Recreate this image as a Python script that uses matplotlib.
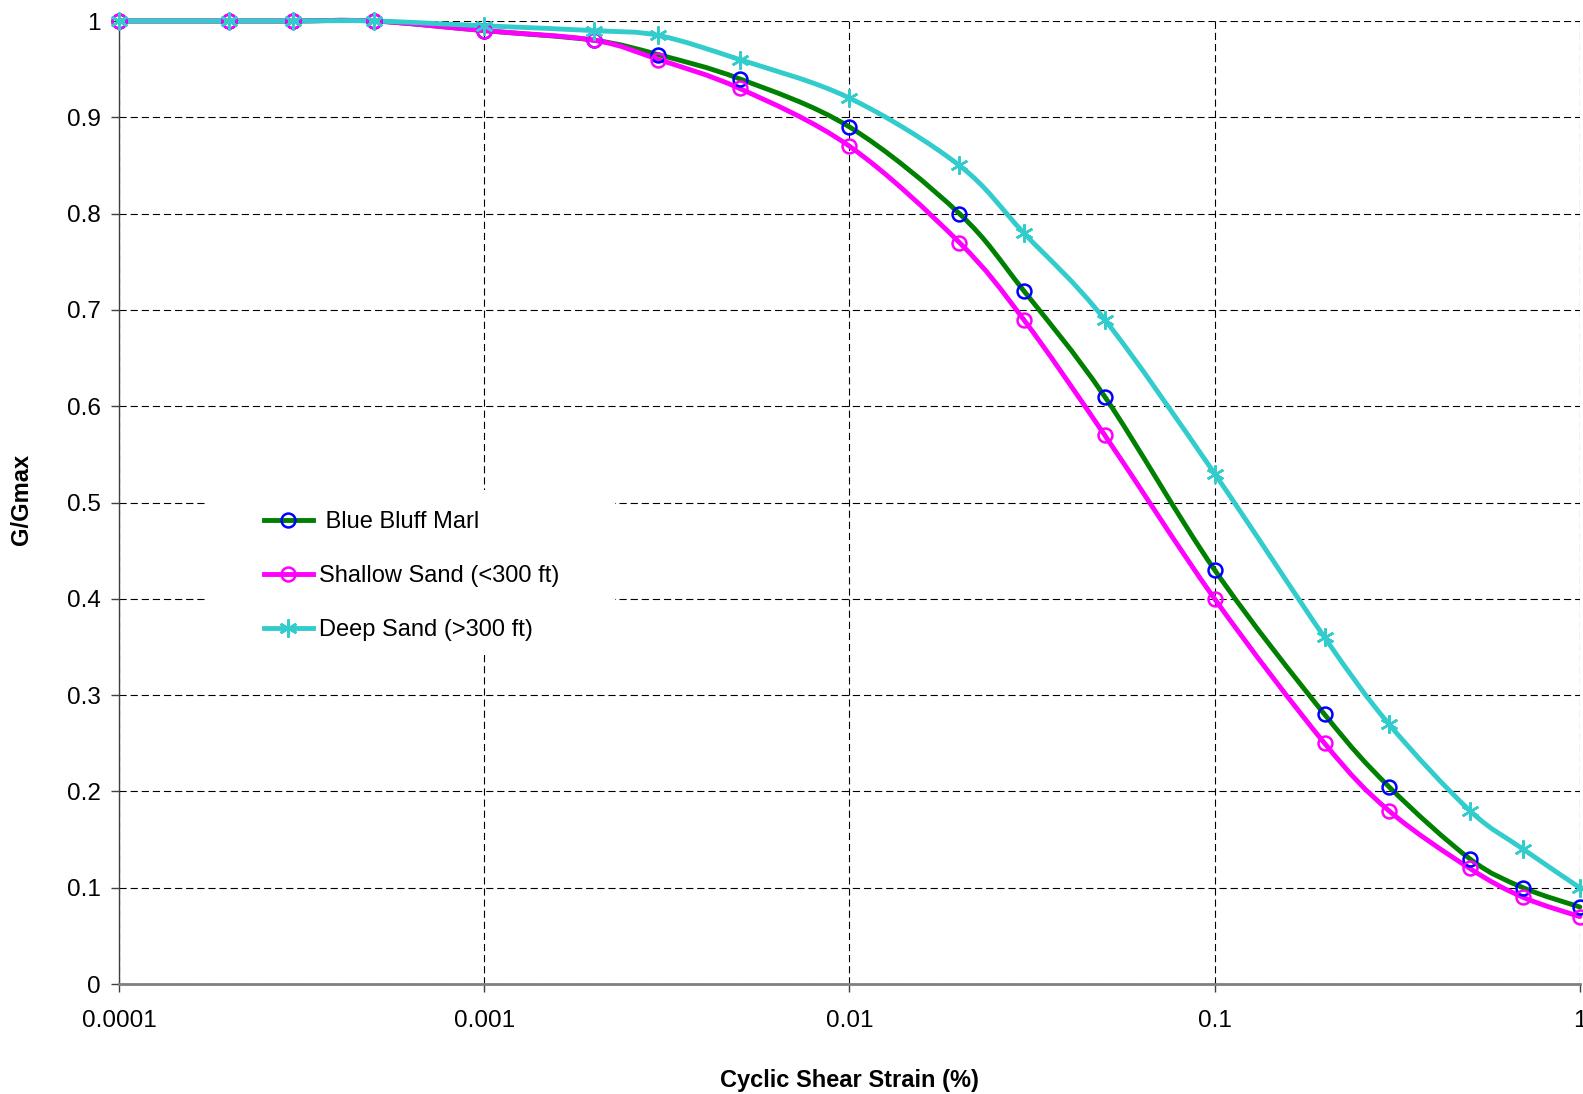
import numpy as np
import matplotlib
matplotlib.use('Agg')
import matplotlib.pyplot as plt
from matplotlib.path import Path
from matplotlib.patches import PathPatch, Rectangle
from matplotlib.lines import Line2D

plt.rcParams['font.family'] = ['Liberation Sans', 'DejaVu Sans']

# cyclic shear strain (%) and modulus reduction G/Gmax
strain = [0.0001, 0.0002, 0.0003, 0.0005, 0.001, 0.002, 0.003, 0.005, 0.01,
          0.02, 0.03, 0.05, 0.1, 0.2, 0.3, 0.5, 0.7, 1.0]
marl = [1, 1, 1, 1, 0.99, 0.98, 0.965, 0.94, 0.89,
        0.80, 0.72, 0.61, 0.43, 0.28, 0.205, 0.13, 0.10, 0.08]
shallow = [1, 1, 1, 1, 0.99, 0.98, 0.96, 0.93, 0.87,
           0.77, 0.69, 0.57, 0.40, 0.25, 0.18, 0.12, 0.09, 0.07]
deep = [1, 1, 1, 1, 0.995, 0.99, 0.985, 0.96, 0.92,
        0.85, 0.78, 0.69, 0.53, 0.36, 0.27, 0.18, 0.14, 0.10]

xticks = [0.0001, 0.001, 0.01, 0.1, 1]
xticklabels = ['0.0001', '0.001', '0.01', '0.1', '1']
yticks = [0, 0.1, 0.2, 0.3, 0.4, 0.5, 0.6, 0.7, 0.8, 0.9, 1]
yticklabels = ['0', '0.1', '0.2', '0.3', '0.4', '0.5', '0.6', '0.7', '0.8', '0.9', '1']


def smooth_path(x, y):
    # excel style smoothed line: catmull-rom bezier segments in log-x space
    lx = np.log10(x)
    y = np.asarray(y, float)
    px = np.concatenate([[lx[0]], lx, [lx[-1]]])
    py = np.concatenate([[y[0]], y, [y[-1]]])
    verts = [(x[0], y[0])]
    codes = [Path.MOVETO]
    for i in range(1, len(lx)):
        c1 = (px[i] + (px[i + 1] - px[i - 1]) / 6, py[i] + (py[i + 1] - py[i - 1]) / 6)
        c2 = (px[i + 1] - (px[i + 2] - px[i]) / 6, py[i + 1] - (py[i + 2] - py[i]) / 6)
        end = (px[i + 1], py[i + 1])
        for p in (c1, c2, end):
            verts.append((10 ** p[0], p[1]))
            codes.append(Path.CURVE4)
    return Path(verts, codes)


fig = plt.figure(figsize=(15.83, 10.94), dpi=100)
ax = fig.add_axes([0.0752, 0.1005, 0.9228, 0.8803])
ax.set_xscale('log')

series = [
    (' Blue Bluff Marl', marl, '#008000', 'o', '#0000FF', 10),
    ('Shallow Sand (<300 ft)', shallow, '#FF00FF', 'o', '#FF00FF', 10),
    ('Deep Sand (>300 ft)', deep, '#33CCCC', (6, 2, 0), '#33CCCC', 13),
]

handles = []
for label, vals, col, mk, mcol, ms in series:
    ax.add_patch(PathPatch(smooth_path(strain, vals), fill=False, edgecolor=col,
                           lw=3.5, zorder=3, clip_on=False, capstyle='round'))
    ax.plot(strain, vals, linestyle='none', marker=mk, ms=ms, mfc='none',
            mec=mcol, mew=1.8, zorder=4, clip_on=False)
    handles.append(Line2D([], [], color=col, lw=3.5, marker=mk, ms=ms, mfc='none',
                          mec=mcol, mew=1.8, label=label))

ax.set_xlim(0.0001, 1)
ax.set_ylim(0, 1)
ax.set_xticks(xticks)
ax.set_xticklabels(xticklabels)
ax.set_yticks(yticks)
ax.set_yticklabels(yticklabels)
ax.minorticks_off()
ax.tick_params(axis='both', labelsize=17.5, direction='out', length=6,
               width=1, color='#404040')
ax.tick_params(axis='y', pad=7)
ax.tick_params(axis='x', pad=13)

ax.grid(True, which='major', color='black', linestyle=(0, (6.5, 3.5)), linewidth=0.8)
ax.set_axisbelow(True)
for s in ('top', 'right'):
    ax.spines[s].set_visible(False)
ax.spines['left'].set_color('#404040')
ax.spines['left'].set_linewidth(1)
ax.spines['bottom'].set_color('#808080')
ax.spines['bottom'].set_linewidth(2)

fig.text(0.5366, 1 - 1080 / 1094, 'Cyclic Shear Strain (%)', fontsize=17,
         fontweight='bold', ha='center', va='center')
fig.text(22 / 1583, 1 - 499 / 1094, 'G/Gmax', fontsize=17, fontweight='bold',
         rotation=90, ha='center', va='center')

# white legend area that hides the grid behind it
ax.add_patch(Rectangle((0.0596, 0.3416), 0.28, 0.171, transform=ax.transAxes,
                       facecolor='white', edgecolor='none', zorder=1))
leg = ax.legend(handles=handles, loc='upper left', bbox_to_anchor=(0.099, 0.4913),
                fontsize=17, frameon=False, numpoints=1,
                handlelength=2.1, handletextpad=0.25, labelspacing=1.36,
                borderpad=0, borderaxespad=0)
leg.set_zorder(5)

fig.savefig('out.png', dpi=100)
